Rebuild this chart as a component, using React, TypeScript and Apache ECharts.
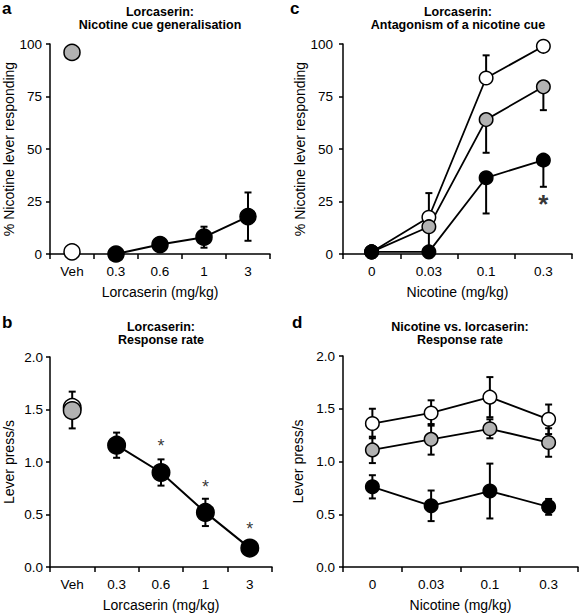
import React, { useEffect, useRef } from 'react';
import * as echarts from 'echarts';

const FONT = '"Liberation Sans", Arial, Helvetica, sans-serif';

// ---------- categories ----------
const lorcCats = ['Veh', '0.3', '0.6', '1', '3'];
const nicCats = ['0', '0.03', '0.1', '0.3'];

// ---------- panel a: % nicotine lever responding ----------
const aOpen = [1, null, null, null, null];
const aGrey = [96, null, null, null, null];
const aFilled = [null, 0, 4.5, 8, 17.8];
const aFilledSem = [null, 0, 1.5, 5, 11.5];

// ---------- panel b: response rate ----------
const bOpen = [1.52, null, null, null, null];
const bOpenSem = [0.15, null, null, null, null];
const bGrey = [1.49, null, null, null, null];
const bGreySem = [0.17, null, null, null, null];
const bFilled = [null, 1.16, 0.9, 0.52, 0.18];
const bFilledSem = [null, 0.12, 0.125, 0.13, 0.03];
const bStars = [null, null, 1.19, 0.8, 0.4];

// ---------- panel c: antagonism ----------
const cOpen = [1, 17.5, 83.8, 98.9];
const cOpenSem = [0, 11.5, 10.8, 0];
const cGrey = [1, 13, 64, 79.6];
const cGreySem = [0, 12, 15.8, 11.1];
const cFilled = [1, 1, 36.3, 44.7];
const cFilledSem = [0, 0, 17, 12.7];
const cStars = [null, null, null, 25.3];

// ---------- panel d: response rate ----------
const dOpen = [1.36, 1.46, 1.61, 1.4];
const dOpenSem = [0.14, 0.12, 0.19, 0.14];
const dGrey = [1.11, 1.21, 1.31, 1.18];
const dGreySem = [0.125, 0.145, 0.09, 0.135];
const dFilled = [0.76, 0.58, 0.72, 0.57];
const dFilledSem = [0.11, 0.145, 0.26, 0.075];

const WHITE = '#ffffff';
const GREY = '#b2b2b2';
const BLACK = '#000000';

type Dir = 'both' | 'up' | 'down';

function errData(mean: (number | null)[], sem: (number | null)[], dir: Dir) {
  const out: any[] = [];
  mean.forEach((m, i) => {
    const s = sem[i];
    if (m == null || s == null || s === 0) return;
    const lo = dir === 'up' ? m : m - s;
    const hi = dir === 'down' ? m : m + s;
    out.push([i, lo, hi]);
  });
  return out;
}

function errSeries(grid: number, mean: (number | null)[], sem: (number | null)[], dir: Dir) {
  return {
    type: 'custom',
    xAxisIndex: grid,
    yAxisIndex: grid,
    z: 1,
    silent: true,
    encode: { x: 0, y: [1, 2] },
    data: errData(mean, sem, dir),
    renderItem: (params: any, api: any) => {
      const x = api.value(0);
      const lo = api.coord([x, api.value(1)]);
      const hi = api.coord([x, api.value(2)]);
      const cap = 3.5;
      const st = { stroke: '#000', lineWidth: 2 };
      return {
        type: 'group',
        children: [
          { type: 'line', shape: { x1: lo[0], y1: lo[1], x2: hi[0], y2: hi[1] }, style: st },
          { type: 'line', shape: { x1: hi[0] - cap, y1: hi[1], x2: hi[0] + cap, y2: hi[1] }, style: st },
          { type: 'line', shape: { x1: lo[0] - cap, y1: lo[1], x2: lo[0] + cap, y2: lo[1] }, style: st },
        ],
      };
    },
  };
}

function lineSeries(grid: number, data: (number | null)[], fill: string, size: number, lw: number) {
  return {
    type: 'line',
    xAxisIndex: grid,
    yAxisIndex: grid,
    z: 3,
    data: data.map((v) => (v == null ? '-' : v)),
    symbol: 'circle',
    symbolSize: size,
    showSymbol: true,
    showAllSymbol: true,
    connectNulls: false,
    silent: true,
    lineStyle: { color: '#000', width: lw },
    itemStyle: { color: fill, borderColor: '#000', borderWidth: 1.5 },
  };
}

function starSeries(grid: number, data: (number | null)[], fontSize: number, bold: boolean, dy: number) {
  return {
    type: 'scatter',
    xAxisIndex: grid,
    yAxisIndex: grid,
    z: 4,
    silent: true,
    symbol: 'circle',
    symbolSize: 1,
    itemStyle: { color: 'rgba(0,0,0,0)' },
    data: data.map((v) => (v == null ? '-' : v)),
    label: {
      show: true,
      position: 'inside',
      formatter: '*',
      fontSize,
      fontWeight: bold ? 'bold' : 'normal',
      fontFamily: FONT,
      color: '#000',
      offset: [0, dy],
    },
  };
}

function xAxis(grid: number, cats: string[], name: string) {
  return {
    type: 'category',
    gridIndex: grid,
    data: cats,
    boundaryGap: true,
    axisLine: { show: true, lineStyle: { color: '#000', width: 1.5 } },
    axisTick: { show: true, length: 5, alignWithLabel: false, lineStyle: { color: '#000', width: 1.5 } },
    axisLabel: { color: '#000', fontSize: 13.5, fontFamily: FONT, margin: 10 },
    splitLine: { show: false },
    name,
    nameLocation: 'middle',
    nameGap: 31,
    nameTextStyle: { color: '#000', fontSize: 14, fontFamily: FONT },
  };
}

function yAxis(grid: number, max: number, interval: number, name: string, decimals: number, gap: number, margin: number) {
  return {
    type: 'value',
    gridIndex: grid,
    min: 0,
    max,
    interval,
    axisLine: { show: true, lineStyle: { color: '#000', width: 1.5 } },
    axisTick: { show: true, length: 4, lineStyle: { color: '#000', width: 1.5 } },
    axisLabel: {
      color: '#000',
      fontSize: 13.5,
      fontFamily: FONT,
      margin,
      formatter: (v: number) => v.toFixed(decimals),
    },
    splitLine: { show: false },
    name,
    nameLocation: 'middle',
    nameGap: gap,
    nameTextStyle: { color: '#000', fontSize: 14, fontFamily: FONT },
  };
}

function titleText(x: number, y: number, text: string) {
  return {
    type: 'text',
    x,
    y,
    silent: true,
    style: {
      text,
      fill: '#000',
      fontSize: 12.5,
      fontWeight: 'bold',
      fontFamily: FONT,
      textAlign: 'center',
      textVerticalAlign: 'top',
      lineHeight: 13,
    },
  };
}

function letter(x: number, y: number, text: string) {
  return {
    type: 'text',
    x,
    y,
    silent: true,
    style: {
      text,
      fill: '#000',
      fontSize: 17,
      fontWeight: 'bold',
      fontFamily: FONT,
      textAlign: 'left',
      textVerticalAlign: 'top',
    },
  };
}

export default function App() {
  const ref = useRef<HTMLDivElement>(null);

  useEffect(() => {
    if (!ref.current) return;
    const chart = echarts.init(ref.current, undefined, { renderer: 'svg' });
    const option: any = {
      animation: false,
      backgroundColor: '#ffffff',
      grid: [
        { left: 50, top: 44, width: 220, height: 210 },
        { left: 50, top: 357, width: 222, height: 210 },
        { left: 343, top: 44, width: 229, height: 210 },
        { left: 343, top: 356, width: 235, height: 211 },
      ],
      xAxis: [
        xAxis(0, lorcCats, 'Lorcaserin (mg/kg)'),
        xAxis(1, lorcCats, 'Lorcaserin (mg/kg)'),
        xAxis(2, nicCats, 'Nicotine (mg/kg)'),
        xAxis(3, nicCats, 'Nicotine (mg/kg)'),
      ],
      yAxis: [
        yAxis(0, 100, 25, '% Nicotine lever responding', 0, 34, 8),
        yAxis(1, 2, 0.5, 'Lever press/s', 1, 34, 7),
        yAxis(2, 100, 25, '% Nicotine lever responding', 0, 36, 10),
        yAxis(3, 2, 0.5, 'Lever press/s', 1, 38, 8),
      ],
      series: [
        // panel a
        errSeries(0, aFilled, aFilledSem, 'both'),
        lineSeries(0, aOpen, WHITE, 16, 2),
        lineSeries(0, aGrey, GREY, 16, 2),
        lineSeries(0, aFilled, BLACK, 16, 2),
        // panel b
        errSeries(1, bOpen, bOpenSem, 'up'),
        errSeries(1, bGrey, bGreySem, 'down'),
        errSeries(1, bFilled, bFilledSem, 'both'),
        lineSeries(1, bOpen, WHITE, 17.5, 2),
        lineSeries(1, bGrey, GREY, 17.5, 2),
        lineSeries(1, bFilled, BLACK, 17.5, 2),
        starSeries(1, bStars, 18, false, 4),
        // panel c
        errSeries(2, cOpen, cOpenSem, 'up'),
        errSeries(2, cGrey, cGreySem, 'down'),
        errSeries(2, cFilled, cFilledSem, 'down'),
        lineSeries(2, cOpen, WHITE, 13.5, 1.8),
        lineSeries(2, cGrey, GREY, 13.5, 1.8),
        lineSeries(2, cFilled, BLACK, 13.5, 1.8),
        starSeries(2, cStars, 26, true, 3),
        // panel d
        errSeries(3, dOpen, dOpenSem, 'both'),
        errSeries(3, dGrey, dGreySem, 'both'),
        errSeries(3, dFilled, dFilledSem, 'both'),
        lineSeries(3, dOpen, WHITE, 13.5, 1.8),
        lineSeries(3, dGrey, GREY, 13.5, 1.8),
        lineSeries(3, dFilled, BLACK, 13.5, 1.8),
      ],
      graphic: [
        letter(2, 0, 'a'),
        letter(2, 314, 'b'),
        letter(290, 0, 'c'),
        letter(292, 314, 'd'),
        titleText(160, 5, 'Lorcaserin:\nNicotine cue generalisation'),
        titleText(161, 320, 'Lorcaserin:\nResponse rate'),
        titleText(458, 5, 'Lorcaserin:\nAntagonism of a nicotine cue'),
        titleText(460, 320, 'Nicotine vs. lorcaserin:\nResponse rate'),
      ],
    };
    chart.setOption(option);
    return () => chart.dispose();
  }, []);

  return (
    <div
      ref={ref}
      style={{ position: 'fixed', left: 0, top: 0, width: 581, height: 615, background: '#fff' }}
    />
  );
}
